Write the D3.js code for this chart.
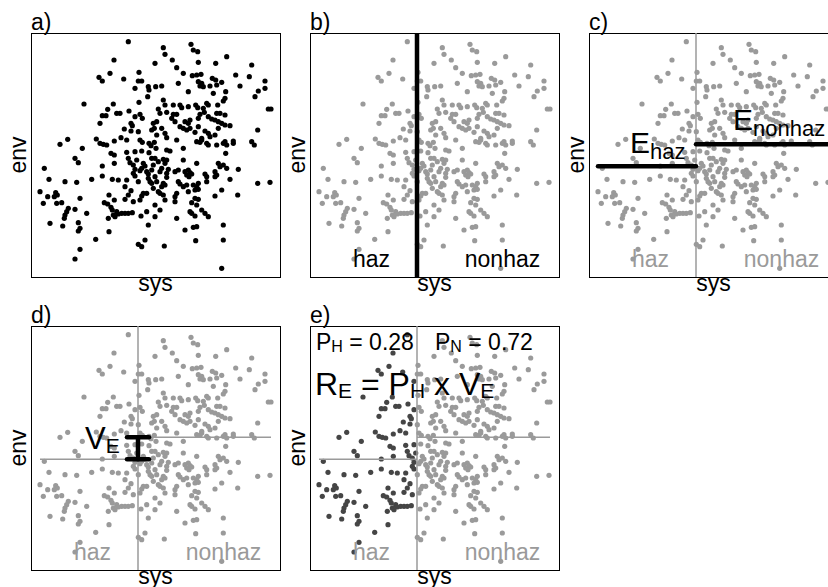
<!DOCTYPE html>
<html><head><meta charset="utf-8">
<script src="https://cdn.jsdelivr.net/npm/d3@7"></script>
<style>html,body{margin:0;padding:0;background:#fff;overflow:hidden}svg{display:block}text{font-family:"Liberation Sans",Arial,sans-serif}</style>
</head><body>
<script>
// ---- data (sys, env) ----
const sys = [97.3,83,124,79,108,68,71.3,92.7,107.3,110.7,104,117.3,118,124.7,116.7,53,82.3,108,76.7,85.7,89,98,109,71.3,75,104,111.3,69,100,101.3,122.3,125.7,93.3,100,107.3,120.7,123.3,36.7,29,65.3,69,72.3,83.3,90,95.7,109,111.3,118,120,123.3,51.3,75.7,80,95.7,104,110.7,125,
160,162.3,166.7,132.3,134,195.7,141.3,167.3,184.7,145.7,220.7,152.3,161.3,165.7,170,204.7,218.3,181.3,184.7,167.3,170.7,147.3,190.7,234,130.7,169,172.3,179,185.7,209,234,157.3,182.3,194.7,227.3,224,194,192.3,132.3,134,142.3,149,150.7,157.3,164.7,166.7,175.7,177.3,172.3,186.7,237.3,240,127.3,129,135.7,142.3,145.7,169,173.3,185.7,189,194,140.7,144,154,157.3,159,167.3,177.3,180.7,184,187.3,190.7,199,130.7,149,152.3,155.7,159,167.3,187.3,194,164,174,177.3,226.7,134,135.7,125.7,179,184,170.7,145.7,165.7,169,170.7,175.7,177.3,185.7,192.3,194,195.7,202.3,202.3,220.7,223.3,152.3,135.7,139,194.7,
44,47.3,83.3,83.3,71.3,97.3,118,120.7,99,102.3,105.7,112.3,114,122.3,13.3,104,109,110.7,102.3,104,115.7,117.3,120.7,71.3,18,34,45.7,60.7,81.3,87.3,95.7,107.3,117.3,119,120.7,124,125.7,94,122.3,9,16.7,24.7,26.3,23.3,78,100,97.3,112.3,110.7,109,115.7,49,83.3,94,12.3,25.7,30.7,73.3,76.7,102.3,80,81.3,37.3,35.7,44,85.7,87.3,90.7,94,97.3,101.3,115.7,110,34,33.3,55.7,82.3,84,77.3,124,19,31.7,47.3,49,117.3,47.3,78,64.7,114,107.3,110.7,49,44,
124,127.3,132.3,134,135.7,152.3,165.7,187.3,189,192.3,195.7,207.3,130.7,129,137.3,135.7,144,147.3,154,157.3,159,160.7,155.7,158,174,175.7,184,185.7,135.7,175.7,184,199,147.3,149,132.3,130.7,134,152.3,155.7,162.3,165.7,167.3,226.7,239,127.3,129,145.7,144,157.3,164,167.3,190.7,184,206.7,132.3,134,164,167.3,144,160.7,124,129,165.7,170.7,174,177.3,159,160.7,164,145.7,192.3,154,162.3,165.7,133.3,164.7,192.3,190.7];
const env = [235.3,217,213.7,203.7,204.7,199.7,196,198,196,196,188.7,190.3,187,190.3,180.3,173,173,174.7,167.7,163.7,163.7,166,162.7,161.3,161.3,160.3,158.7,153.7,153.7,151.3,153.7,155.3,148,146,145.3,147,148.7,137.7,132.7,138,133.7,132.7,136,139.3,137,137,134.7,133.7,131.3,134.7,128.7,132,123.7,124.7,125.3,126,128.7,
232.7,227,225.3,229.3,222.7,220.3,217,214.7,213.7,209.3,212,203.7,201.3,202,202.7,202,200.3,198.7,197,195.3,193.7,193.7,194.7,196,191,191,190.3,191,192,191,188.7,185.3,183.7,185.3,186,180.3,178.7,176,177,172,172,172,169.3,170.3,172,169.3,173.7,172,168.7,172,168,168,168,163.7,164.7,162.7,162.7,162.7,164.7,163.7,163.7,162,158.7,155.3,155.3,153.7,157,158.7,160.3,158,157,155.3,153.7,151.3,148.7,150.3,148.7,147,148.7,150.3,148.7,152,144.7,146,143.7,147,143.7,139.3,142,140.3,142,138.7,137,135.3,134.7,137,133.7,132,132,133.7,135.3,132,133.7,136,135.3,132,128.7,127,126,123.7,
118.7,114.3,122,113.7,111,118.7,124.3,118.7,114.3,112,117,113.7,111,112,108.7,107.7,106.3,108.7,103.7,101,105.3,103,107,101,97.7,95.3,94.7,97.7,97.7,97,97,95.3,98.7,95.3,93.7,100.3,95.3,90.3,88.7,85.3,80.3,84.3,82,80.3,82,86.3,82,83.7,81,77,83.7,78.7,77,77.7,73.7,73.7,74.3,74.3,73,75.3,69.7,67,68.7,65.3,67.7,65.3,63,63.7,63.7,63.7,64.3,65.3,61,62,58.7,63.7,62,60.3,58.7,60.3,53.7,51,54.3,48.7,52,46,45.3,37.7,37,32.7,30.3,27.7,18,
118.7,115.3,117.7,113.7,117,117,113.7,113.7,110.3,112,108.7,107.7,108.7,105.3,107.7,103.7,105.3,107,105.3,107,104.3,103,102,100.3,103,100.3,105.3,102,99.7,95.3,100.3,97.7,95.3,93,93.7,90.3,92,90.3,92,92,90.3,93.7,93.7,94.7,85.3,83.7,83.7,80.3,85.3,87,87.7,87,81,82,82,77,78.7,77.7,75.3,74.3,72,67,72,67,63.7,60.3,65.3,63.7,61,58.7,52,47,49.7,50.3,31,36.3,37,8.7];

const sysDomain = [0, 249];
const envDomain = [0, 244];
const split = 107;                     // sys threshold haz | nonhaz
const groups = ["haz", "nonhaz"];
const groupMeanEnv = [110.7, 132.7];   // E_haz, E_nonhaz
const probs = [0.28, 0.72];            // P_H, P_N
const panelLabels = ["a)", "b)", "c)", "d)", "e)"];
const xLabel = "sys", yLabel = "env";

// ---- layout ----
const W = 828, H = 587;
const PW = 249, PH = 244;
const panelPos = [[31,33],[310,33],[589,33],[31,326],[310,326]];
const GREY = "#9a9a9a", DARK = "#454545";
const FONT = 23;

const svg = d3.select("body").append("svg").attr("width", W).attr("height", H);
const pts = sys.map((s, i) => ({s, e: env[i]}));
const sysMin = d3.min(sys), sysMax = d3.max(sys);

function addSubText(g, x, y, parts, fill) {
  const f = fill || "#000";
  const t = g.append("text").attr("x", x).attr("y", y).attr("fill", f);
  parts.forEach(p => {
    t.append("tspan").attr("font-size", p[1]).attr("dy", p[2] || 0).attr("fill", f).text(p[0]);
  });
  return t;
}

panelPos.forEach((pos, k) => {
  const [L, T] = pos;
  const x = d3.scaleLinear().domain(sysDomain).range([L, L + PW]);
  const y = d3.scaleLinear().domain(envDomain).range([T + PH, T]);
  const g = svg.append("g");

  // points
  g.selectAll("circle").data(pts).enter().append("circle")
    .attr("cx", d => x(d.s)).attr("cy", d => y(d.e)).attr("r", 2.6)
    .attr("fill", d => k === 0 ? "#000" : (k === 4 && d.s < split ? DARK : GREY));

  // frame
  g.append("rect").attr("x", L + 0.5).attr("y", T + 0.5).attr("width", PW).attr("height", PH)
    .attr("fill", "none").attr("stroke", "#000").attr("stroke-width", 1);

  // labels
  g.append("text").attr("x", L).attr("y", T - 3).attr("font-size", FONT).text(panelLabels[k]);
  g.append("text").attr("x", L + PW / 2).attr("y", T + PH + 14).attr("text-anchor", "middle")
    .attr("font-size", FONT).text(xLabel);
  g.append("text").attr("transform", `translate(${L - 5},${T + PH / 2}) rotate(-90)`)
    .attr("text-anchor", "middle").attr("font-size", FONT).text(yLabel);

  if (k >= 1) {
    // split line
    g.append("line").attr("x1", x(split)).attr("x2", x(split)).attr("y1", T).attr("y2", T + PH)
      .attr("stroke", k === 1 ? "#000" : GREY).attr("stroke-width", k === 1 ? 4.5 : 1.5);
    // group labels
    const lx = [61.5, 192.5];
    groups.forEach((gr, i) => {
      g.append("text").attr("x", x(lx[i])).attr("y", T + 233.5).attr("text-anchor", "middle")
        .attr("font-size", FONT).attr("fill", k === 1 ? "#000" : GREY).text(gr);
    });
  }
  if (k >= 2) {
    const xs = [[sysMin, split], [split, sysMax]];
    groups.forEach((gr, i) => {
      g.append("line").attr("x1", x(xs[i][0])).attr("x2", x(xs[i][1]))
        .attr("y1", y(groupMeanEnv[i])).attr("y2", y(groupMeanEnv[i]))
        .attr("stroke", k === 2 ? "#000" : GREY).attr("stroke-width", k === 2 ? 4.5 : 1.5)
        .attr("stroke-linecap", k === 2 ? "round" : "butt");
    });
  }
  if (k === 2) {
    addSubText(g, L + 41, y(groupMeanEnv[0]) - 13, [["E", 30], ["haz", 22, 6]]);
    addSubText(g, L + 144, y(groupMeanEnv[1]) - 14, [["E", 30], ["nonhaz", 22, 6]]);
  }
  if (k === 3) {
    const bx = x(split), y1 = y(groupMeanEnv[1]), y2 = y(groupMeanEnv[0]);
    const ib = g.append("g").attr("stroke", "#000").attr("stroke-width", 4.5).attr("stroke-linecap", "round");
    ib.append("line").attr("x1", bx).attr("x2", bx).attr("y1", y1).attr("y2", y2);
    ib.append("line").attr("x1", bx - 11).attr("x2", bx + 11).attr("y1", y1).attr("y2", y1);
    ib.append("line").attr("x1", bx - 11).attr("x2", bx + 11).attr("y1", y2).attr("y2", y2);
    addSubText(g, L + 54, y(groupMeanEnv[0]) - 10, [["V", 31], ["E", 21, 4]]);
  }
  if (k === 4) {
    addSubText(g, L + 6, T + 24, [["P", 23], ["H", 16, 2], [" = " + probs[0].toFixed(2), 23, -2]]);
    addSubText(g, L + 125, T + 24, [["P", 23], ["N", 16, 2], [" = " + probs[1].toFixed(2), 23, -2]]);
    addSubText(g, L + 5, T + 69, [["R", 32], ["E", 21, 3], [" = P", 32, -3], ["H", 21, 3], [" x V", 32, -3], ["E", 21, 3]]);
  }
});
</script>
</body></html>
